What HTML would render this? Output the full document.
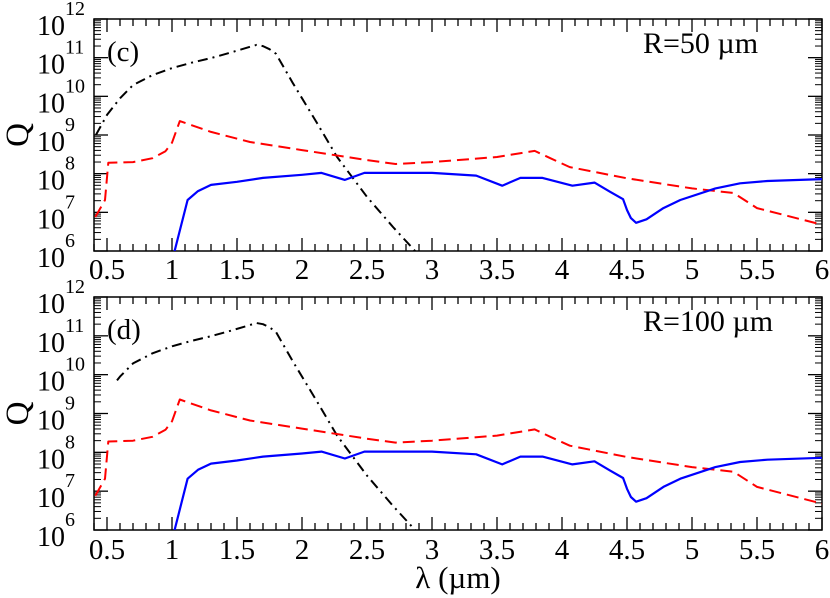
<!DOCTYPE html>
<html><head><meta charset="utf-8"><style>
html,body{margin:0;padding:0;background:#fff;}
svg{display:block;font-family:"Liberation Serif",serif;}
</style></head><body>
<svg id="chart" width="830" height="598" viewBox="0 0 830 598" xmlns="http://www.w3.org/2000/svg"></svg>
<script>
const xTicks = [0.5,1,1.5,2,2.5,3,3.5,4,4.5,5,5.5,6];
const xTickLabels = ["0.5","1","1.5","2","2.5","3","3.5","4","4.5","5","5.5","6"];
const yDecades = [6,7,8,9,10,11,12];
const panelLabels = ["(c)","(d)"];
const radiusLabels = ["R=50 \u00b5m","R=100 \u00b5m"];
// black dash-dot series (log10 Q)
const blackLam = [0.415,0.5,0.6,0.7,0.85,1.0,1.15,1.3,1.45,1.6,1.65,1.7,1.75,1.8,1.93,2.115,2.27,2.5,2.7,2.87];
const blackLogQ = [9.0,9.52,9.95,10.29,10.55,10.73,10.87,10.99,11.13,11.28,11.33,11.3,11.22,11.1,10.34,9.31,8.43,7.40,6.62,6.0];
const blackStart = [0.415,0.577];
// red dashed series
const redLam = [0.41,0.485,0.51,0.7,0.85,0.95,1.0,1.06,1.3,1.6,2.0,2.5,2.72,3.0,3.5,3.79,3.91,4.06,4.5,5.0,5.32,5.5,6.0];
const redLogQ = [6.88,7.32,8.28,8.30,8.40,8.58,8.80,9.36,9.08,8.82,8.61,8.35,8.25,8.30,8.43,8.59,8.40,8.17,7.88,7.62,7.50,7.11,6.68];
// blue solid series
const blueLam = [1.02,1.12,1.2,1.3,1.5,1.7,2.0,2.15,2.33,2.48,3.0,3.34,3.54,3.68,3.85,4.08,4.25,4.37,4.47,4.5,4.53,4.57,4.65,4.78,4.91,5.18,5.37,5.58,6.0];
const blueLogQ = [6.0,7.32,7.55,7.71,7.79,7.89,7.97,8.02,7.84,8.02,8.02,7.95,7.69,7.89,7.89,7.69,7.77,7.53,7.34,7.06,6.85,6.73,6.82,7.11,7.32,7.62,7.75,7.81,7.86];

const NS="http://www.w3.org/2000/svg";
const svg=document.getElementById('chart');
function el(tag,attrs,parent){const e=document.createElementNS(NS,tag);for(const k in attrs)e.setAttribute(k,attrs[k]);(parent||svg).appendChild(e);return e;}
const L=94,R=822,XMIN=0.4,XMAX=6;
const panels=[{top:19,bot:251,xl:270},{top:297,bot:530,xl:550}];
function sx(v){return L+(v-XMIN)/(XMAX-XMIN)*(R-L);}

panels.forEach((p,pi)=>{
  const g=el('g',{});
  
  
  function sy(lq){return p.bot-(lq-6)/6*(p.bot-p.top);}
  const clipId='clip'+pi;
  const cp=el('clipPath',{id:clipId},g);
  el('rect',{x:L,y:p.top,width:R-L,height:p.bot-p.top},cp);
  for(let i=4;i<=60;i++){
    const v=i/10, x=sx(v), major=(i%5===0), len=major?13:7;
    el('line',{x1:x,y1:p.bot,x2:x,y2:p.bot-len,stroke:'#000','stroke-width':1.3},g);
    el('line',{x1:x,y1:p.top,x2:x,y2:p.top+len,stroke:'#000','stroke-width':1.3},g);
  }
  xTicks.forEach((v,i)=>{
    const t=el('text',{x:sx(v),y:p.xl+9,'font-size':29,'text-anchor':'middle'},g);
    t.textContent=xTickLabels[i];
    
    
  });
  yDecades.forEach((d,di)=>{
    const y=sy(d);
    el('line',{x1:L,y1:y,x2:L+14,y2:y,stroke:'#000','stroke-width':1.3},g);
    el('line',{x1:R,y1:y,x2:R-14,y2:y,stroke:'#000','stroke-width':1.3},g);
    if(di<yDecades.length-1){
      for(let m=2;m<=9;m++){
        const yy=sy(d+Math.log10(m));
        el('line',{x1:L,y1:yy,x2:L+7,y2:yy,stroke:'#000','stroke-width':1},g);
        el('line',{x1:R,y1:yy,x2:R-7,y2:yy,stroke:'#000','stroke-width':1},g);
      }
    }
    const t=el('text',{x:37,y:y+16,'font-size':28,'text-anchor':'start'},g);
    t.textContent='10';
    
    
    const s=el('text',{x:65,y:y-4,'font-size':20,'text-anchor':'start'},g);
    s.textContent=String(d);
    
    
  });
  const fr=el('rect',{x:L,y:p.top,width:R-L,height:p.bot-p.top,fill:'none',stroke:'#000','stroke-width':1.5},g);
  
  
  function series(lams,vals,style,name){
    let pts=[];
    for(let i=0;i<lams.length;i++){
      pts.push(sx(lams[i]).toFixed(1)+','+sy(vals[i]).toFixed(1));
    }
    const pl=el('polyline',Object.assign({points:pts.join(' '),fill:'none','clip-path':'url(#'+clipId+')','stroke-linejoin':'round'},style),g);
    
    
  }
  let bl=blackLam.slice(), bv=blackLogQ.slice();
  if(blackStart[pi]>bl[0]){
    let k=bl.findIndex(v=>v>blackStart[pi]);
    const f=(blackStart[pi]-bl[k-1])/(bl[k]-bl[k-1]);
    const val=bv[k-1]+f*(bv[k]-bv[k-1]);
    bl=[blackStart[pi]].concat(bl.slice(k)); bv=[val].concat(bv.slice(k));
  }
  series(bl,bv,{stroke:'#000','stroke-width':2,'stroke-dasharray':'10 5 2 5'},'black-dashdot-series');
  series(redLam,redLogQ,{stroke:'#f00','stroke-width':2,'stroke-dasharray':'12 6'},'red-dashed-series');
  series(blueLam,blueLogQ,{stroke:'#00f','stroke-width':2.2},'blue-solid-series');
  const pl=el('text',{x:107,y:p.top+42,'font-size':29},g);
  pl.textContent=panelLabels[pi];
  
  
  const rl=el('text',{x:643,y:p.top+34,'font-size':30},g);
  rl.textContent=radiusLabels[pi];
  
  
  const q=el('text',{x:0,y:0,'font-size':33,'text-anchor':'middle',transform:'translate(28,'+((p.top+p.bot)/2)+') rotate(-90)'},g);
  q.textContent='Q';
  
  
});
const xt=el('text',{x:458,y:588,'font-size':31,'text-anchor':'middle'});
xt.textContent='\u03bb (\u00b5m)';


</script>
</body></html>
